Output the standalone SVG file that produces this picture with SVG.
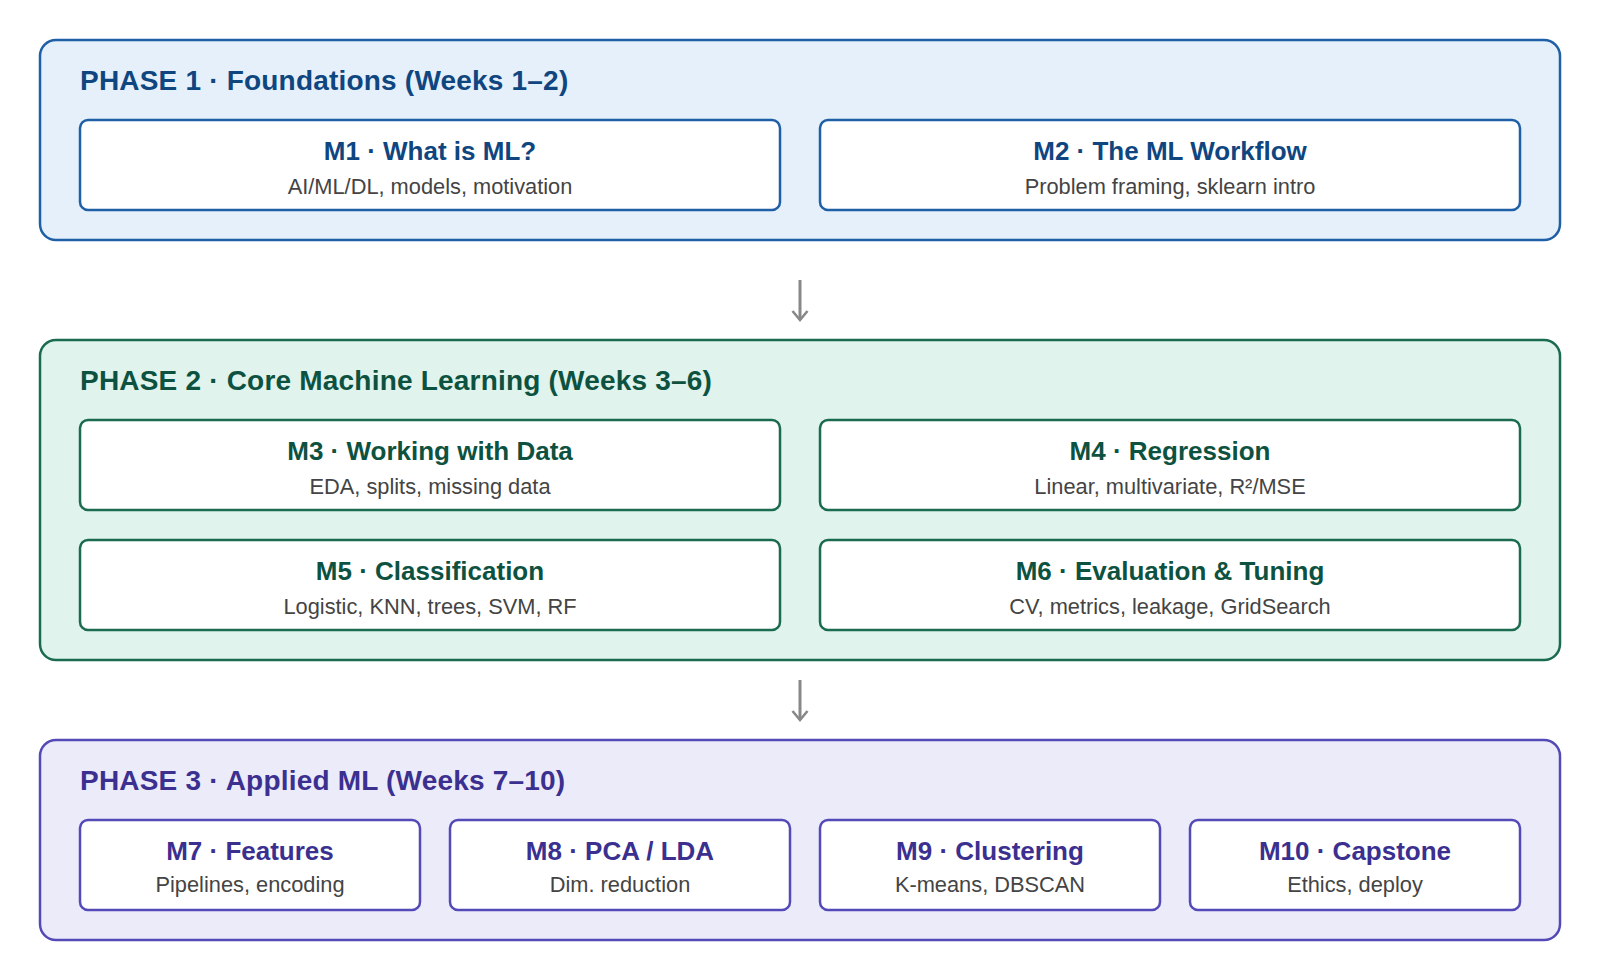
<svg xmlns="http://www.w3.org/2000/svg" width="1600" height="960" viewBox="0 0 1600 960">
<defs>
<style>
text{font-family:"Liberation Sans",Arial,sans-serif;text-anchor:middle}
.ptitle{font-size:28px;font-weight:bold;text-anchor:start;letter-spacing:0.2px}
.mtitle{font-size:26px;font-weight:bold}
.msub{font-size:21.8px;fill:#444444}
.mod{fill:#ffffff;stroke-width:2.5}
.phase{stroke-width:2.5}
.p1 .phase{fill:#e6f0fa;stroke:#1f5fa6}
.p1 .mod{stroke:#1f5fa6}
.p1 .ptitle,.p1 .mtitle{fill:#0f4680}
.p2 .phase{fill:#e0f3ec;stroke:#1b6b4f}
.p2 .mod{stroke:#1b6b4f}
.p2 .ptitle,.p2 .mtitle{fill:#0d5240}
.p3 .phase{fill:#ecebfa;stroke:#5349b7}
.p3 .mod{stroke:#5349b7}
.p3 .ptitle,.p3 .mtitle{fill:#3b3090}
.arrow{stroke:#888888;stroke-width:3;fill:none}
</style>
<marker id="chev" viewBox="0 0 12 18" refX="10.5" refY="9" markerWidth="12" markerHeight="18" markerUnits="userSpaceOnUse" orient="auto" overflow="visible">
<path d="M1.5,1.5 L10.5,9 L1.5,16.5" fill="none" stroke="#888888" stroke-width="2.6"/>
</marker>
</defs>
<rect width="1600" height="960" fill="#ffffff"/>

<g id="phase1" class="p1">
<rect class="phase" x="40" y="40" width="1520" height="200" rx="16"/>
<text class="ptitle" x="80" y="90">PHASE 1 · Foundations (Weeks 1–2)</text>
<g id="m1"><rect class="mod" x="80" y="120" width="700" height="90" rx="8"/><text class="mtitle" x="430" y="160">M1 · What is ML?</text><text class="msub" x="430" y="194">AI/ML/DL, models, motivation</text></g>
<g id="m2"><rect class="mod" x="820" y="120" width="700" height="90" rx="8"/><text class="mtitle" x="1170" y="160">M2 · The ML Workflow</text><text class="msub" x="1170" y="194">Problem framing, sklearn intro</text></g>
</g>

<g id="phase2" class="p2">
<rect class="phase" x="40" y="340" width="1520" height="320" rx="16"/>
<text class="ptitle" x="80" y="390">PHASE 2 · Core Machine Learning (Weeks 3–6)</text>
<g id="m3"><rect class="mod" x="80" y="420" width="700" height="90" rx="8"/><text class="mtitle" x="430" y="460">M3 · Working with Data</text><text class="msub" x="430" y="494">EDA, splits, missing data</text></g>
<g id="m4"><rect class="mod" x="820" y="420" width="700" height="90" rx="8"/><text class="mtitle" x="1170" y="460">M4 · Regression</text><text class="msub" x="1170" y="494">Linear, multivariate, R²/MSE</text></g>
<g id="m5"><rect class="mod" x="80" y="540" width="700" height="90" rx="8"/><text class="mtitle" x="430" y="580">M5 · Classification</text><text class="msub" x="430" y="614">Logistic, KNN, trees, SVM, RF</text></g>
<g id="m6"><rect class="mod" x="820" y="540" width="700" height="90" rx="8"/><text class="mtitle" x="1170" y="580">M6 · Evaluation &amp; Tuning</text><text class="msub" x="1170" y="614">CV, metrics, leakage, GridSearch</text></g>
</g>

<g id="phase3" class="p3">
<rect class="phase" x="40" y="740" width="1520" height="200" rx="16"/>
<text class="ptitle" x="80" y="790">PHASE 3 · Applied ML (Weeks 7–10)</text>
<g id="m7"><rect class="mod" x="80" y="820" width="340" height="90" rx="8"/><text class="mtitle" x="250" y="860">M7 · Features</text><text class="msub" x="250" y="892">Pipelines, encoding</text></g>
<g id="m8"><rect class="mod" x="450" y="820" width="340" height="90" rx="8"/><text class="mtitle" x="620" y="860">M8 · PCA / LDA</text><text class="msub" x="620" y="892">Dim. reduction</text></g>
<g id="m9"><rect class="mod" x="820" y="820" width="340" height="90" rx="8"/><text class="mtitle" x="990" y="860">M9 · Clustering</text><text class="msub" x="990" y="892">K-means, DBSCAN</text></g>
<g id="m10"><rect class="mod" x="1190" y="820" width="330" height="90" rx="8"/><text class="mtitle" x="1355" y="860">M10 · Capstone</text><text class="msub" x="1355" y="892">Ethics, deploy</text></g>
</g>

<g id="connectors">
<line class="arrow" x1="800" y1="280" x2="800" y2="320" marker-end="url(#chev)"/>
<line class="arrow" x1="800" y1="680" x2="800" y2="720" marker-end="url(#chev)"/>
</g>
</svg>
